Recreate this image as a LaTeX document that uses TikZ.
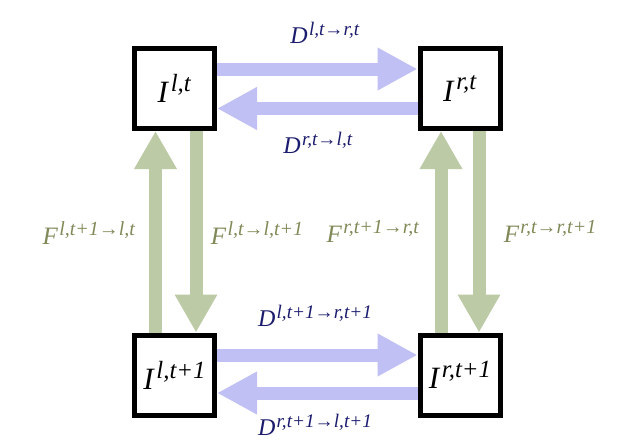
\documentclass[tikz,border=0pt]{standalone}
\usepackage{fontspec}
\setmainfont{Liberation Serif}
\usetikzlibrary{arrows.meta}
\definecolor{flowblue}{RGB}{192,192,244}
\definecolor{flowgreen}{RGB}{188,202,165}
\definecolor{dnavy}{RGB}{28,28,110}
\definecolor{folive}{RGB}{128,138,88}
\newcommand\symsup[2]{\textit{#1}\kern0.05em\raisebox{0.36em}{\scalebox{0.8}{\textit{#2}}}}
\begin{document}
\begin{tikzpicture}[x=1pt,y=-1pt,
  box/.style={draw=black, line width=5pt, fill=white, minimum size=80pt, inner sep=0pt, font=\fontsize{31}{36}\selectfont},
  bflow/.style={draw=flowblue, line width=13pt, -{Triangle[width=40pt,length=40pt]}},
  gflow/.style={draw=flowgreen, line width=13pt, -{Triangle[width=40pt,length=38pt]}},
  dlab/.style={text=dnavy, inner sep=0pt, font=\fontsize{24}{28}\selectfont},
  flab/.style={text=folive, inner sep=0pt, font=\fontsize{25}{28}\selectfont}]
\useasboundingbox (0,0) rectangle (637,447);
\fill[white] (0,0) rectangle (637,447);
\node[box] (tl) at (174.5,88.5) {\symsup{I}{l,t}};
\node[box] (tr) at (460,88.5) {\symsup{I}{r,t}};
\node[box] (bl) at (174.5,375) {\symsup{I}{l,t+1}};
\node[box] (br) at (460,375) {\symsup{I}{r,t+1}};
% horizontal flows
\draw[bflow] ([yshift=19.5pt]tl.east) -- ([yshift=19.5pt]tr.west);
\draw[bflow] ([yshift=-20pt]tr.west) -- ([yshift=-20pt]tl.east);
\draw[bflow] ([yshift=20pt]bl.east) -- ([yshift=20pt]br.west);
\draw[bflow] ([yshift=-18pt]br.west) -- ([yshift=-18pt]bl.east);
% vertical flows
\draw[gflow] ([xshift=-19pt]bl.north) -- ([xshift=-19pt]tl.south);
\draw[gflow] ([xshift=21.5pt]tl.south) -- ([xshift=21.5pt]bl.north);
\draw[gflow] ([xshift=-19pt]br.north) -- ([xshift=-19pt]tr.south);
\draw[gflow] ([xshift=19pt]tr.south) -- ([xshift=19pt]br.north);
% labels
\node[dlab] (d1) at (325,33) {\symsup{D}{l,t→r,t}};
\node[dlab] (d2) at (318,143) {\symsup{D}{r,t→l,t}};
\node[dlab] (d3) at (315,316) {\symsup{D}{l,t+1→r,t+1}};
\node[dlab] (d4) at (315,425) {\symsup{D}{r,t+1→l,t+1}};
\node[flab] (f1) at (89,233) {\symsup{F}{l,t+1→l,t}};
\node[flab] (f2) at (257,233) {\symsup{F}{l,t→l,t+1}};
\node[flab] (f3) at (373,231) {\symsup{F}{r,t+1→r,t}};
\node[flab] (f4) at (550,231) {\symsup{F}{r,t→r,t+1}};
\end{tikzpicture}
\end{document}
